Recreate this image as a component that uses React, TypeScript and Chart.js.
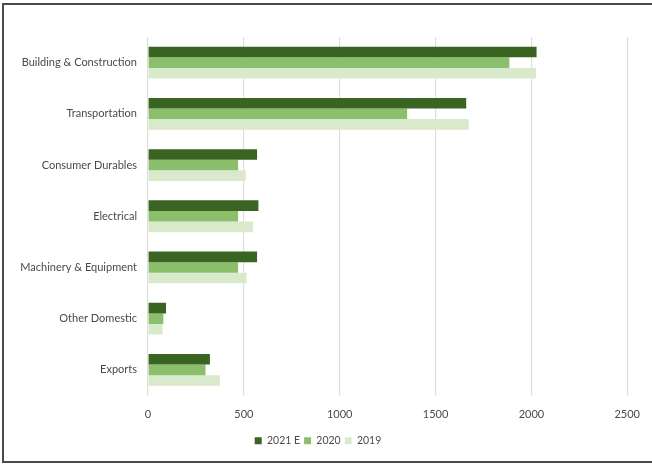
import React, { useEffect, useRef } from "react";
import { Chart, registerables } from "chart.js";

Chart.register(...registerables);

const categories = [
  "Building & Construction",
  "Transportation",
  "Consumer Durables",
  "Electrical",
  "Machinery & Equipment",
  "Other Domestic",
  "Exports",
];
const series2021E = [2027, 1660, 569, 576, 569, 94, 323];
const series2020 = [1885, 1352, 470, 470, 470, 80, 300];
const series2019 = [2024, 1673, 510, 548, 514, 76, 375];
const xTicks = [0, 500, 1000, 1500, 2000, 2500];

export default function App() {
  const ref = useRef<HTMLCanvasElement | null>(null);

  useEffect(() => {
    document.body.style.margin = "0";
    if (!ref.current) return;
    const font = { family: "Lato, 'Open Sans', sans-serif", size: 11 };
    const chart = new Chart(ref.current, {
      type: "bar",
      data: {
        labels: categories,
        datasets: [
          { label: "2021 E", data: series2021E, backgroundColor: "#3a6421" },
          { label: "2020", data: series2020, backgroundColor: "#8cbf6c" },
          { label: "2019", data: series2019, backgroundColor: "#d8e9cc" },
        ],
      },
      options: {
        indexAxis: "y",
        animation: false,
        responsive: false,
        maintainAspectRatio: false,
        layout: { padding: { top: 37, right: 24, bottom: 11, left: 8 } },
        datasets: { bar: { categoryPercentage: 0.62, barPercentage: 1.0 } },
        scales: {
          x: {
            min: 0,
            max: 2500,
            afterBuildTicks: (axis: any) => {
              axis.ticks = xTicks.map((v) => ({ value: v }));
            },
            grid: { color: "#dedede", drawTicks: false, lineWidth: 1.2 },
            border: { display: false },
            ticks: {
              color: "#4a4a4a",
              font,
              padding: 12,
              callback: (v: any) => String(v),
            },
            afterFit: (axis: any) => {
              axis.height = 36;
            },
          },
          y: {
            grid: { display: false, drawTicks: false },
            border: { display: false },
            ticks: { color: "#4a4a4a", font, padding: 11 },
            afterFit: (axis: any) => {
              axis.width = 140;
            },
          },
        },
        plugins: {
          legend: {
            position: "bottom",
            labels: {
              color: "#4a4a4a",
              font: { family: "Lato, 'Open Sans', sans-serif", size: 10.5 },
              boxWidth: 7,
              boxHeight: 7,
              padding: 4,
            },
          },
          tooltip: { enabled: false },
        },
      },
    });
    return () => chart.destroy();
  }, []);

  return (
    <div style={{ position: "relative", width: 652, height: 467, overflow: "hidden", background: "#fff" }}>
      <div
        style={{
          position: "absolute",
          left: 2,
          top: 3,
          width: 700,
          height: 460,
          border: "2px solid #4a4a4a",
          boxSizing: "border-box",
        }}
      />
      <canvas ref={ref} width={652} height={467} style={{ position: "absolute", left: 0, top: 0 }} />
    </div>
  );
}
